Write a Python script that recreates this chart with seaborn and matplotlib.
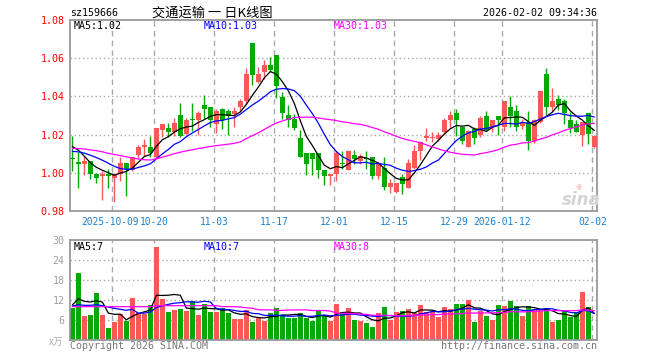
import numpy as np
import pandas as pd
import matplotlib
matplotlib.use("Agg")
import matplotlib.pyplot as plt
import matplotlib.transforms as mtrans
import seaborn as sns

# 日K数据 (2025-09-22 .. 2026-02-02)
opens = [1.0080, 1.0052, 1.0046, 1.0060, 0.9993, 0.9982, 0.9993, 0.9972, 0.9993, 1.0049,
         1.0016, 1.0095, 1.0137, 1.0133, 1.0081, 1.0225, 1.0233, 1.0215, 1.0304, 1.0204,
         1.0279, 1.0277, 1.0353, 1.0344, 1.0256, 1.0332, 1.0323, 1.0309, 1.0344, 1.0374,
         1.0681, 1.0475, 1.0528, 1.0567, 1.0616, 1.0396, 1.0300, 1.0282, 1.0181, 1.0102,
         1.0102, 1.0102, 1.0014, 0.9984, 0.9993, 1.0048, 1.0014, 1.0093, 1.0060, 1.0075,
         1.0081, 0.9981, 1.0025, 0.9928, 0.9902, 0.9979, 0.9923, 1.0025, 1.0116, 1.0182,
         1.0181, 1.0177, 1.0212, 1.0277, 1.0312, 1.0242, 1.0133, 1.0230, 1.0200, 1.0296,
         1.0242, 1.0295, 1.0242, 1.0344, 1.0323, 1.0247, 1.0265, 1.0165, 1.0265, 1.0519,
         1.0344, 1.0388, 1.0375, 1.0277, 1.0253, 1.0200, 1.0312, 1.0133]
highs = [1.0193, 1.0107, 1.0089, 1.0060, 1.0000, 1.0010, 1.0019, 1.0000, 1.0081, 1.0049,
         1.0081, 1.0147, 1.0177, 1.0193, 1.0233, 1.0253, 1.0260, 1.0285, 1.0365, 1.0286,
         1.0365, 1.0323, 1.0405, 1.0344, 1.0335, 1.0340, 1.0335, 1.0344, 1.0388, 1.0549,
         1.0681, 1.0554, 1.0589, 1.0607, 1.0616, 1.0423, 1.0353, 1.0309, 1.0225, 1.0102,
         1.0102, 1.0102, 1.0014, 0.9993, 1.0116, 1.0112, 1.0119, 1.0121, 1.0098, 1.0112,
         1.0081, 1.0046, 1.0081, 0.9967, 0.9949, 0.9993, 1.0072, 1.0147, 1.0168, 1.0233,
         1.0212, 1.0212, 1.0288, 1.0323, 1.0335, 1.0242, 1.0225, 1.0239, 1.0300, 1.0323,
         1.0274, 1.0295, 1.0375, 1.0400, 1.0353, 1.0282, 1.0323, 1.0282, 1.0428, 1.0551,
         1.0446, 1.0405, 1.0388, 1.0318, 1.0277, 1.0265, 1.0312, 1.0200]
lows = [1.0008, 0.9919, 0.9989, 0.9967, 0.9946, 0.9856, 0.9919, 0.9846, 0.9958, 0.9877,
        1.0010, 1.0077, 1.0089, 1.0081, 1.0077, 1.0186, 1.0190, 1.0195, 1.0190, 1.0200,
        1.0218, 1.0200, 1.0282, 1.0239, 1.0207, 1.0230, 1.0198, 1.0239, 1.0323, 1.0361,
        1.0461, 1.0470, 1.0493, 1.0528, 1.0391, 1.0282, 1.0239, 1.0225, 1.0084, 0.9989,
        0.9989, 0.9975, 0.9935, 0.9937, 0.9958, 1.0019, 1.0014, 1.0046, 1.0046, 1.0019,
        0.9967, 0.9967, 0.9909, 0.9896, 0.9896, 0.9888, 0.9920, 1.0019, 1.0067, 1.0168,
        1.0160, 1.0168, 1.0204, 1.0242, 1.0195, 1.0151, 1.0133, 1.0151, 1.0189, 1.0221,
        1.0212, 1.0200, 1.0218, 1.0242, 1.0221, 1.0230, 1.0119, 1.0154, 1.0260, 1.0305,
        1.0323, 1.0330, 1.0253, 1.0207, 1.0212, 1.0142, 1.0151, 1.0130]
closes = [1.0070, 1.0048, 1.0060, 0.9993, 0.9972, 0.9993, 0.9984, 0.9993, 1.0049, 1.0019,
          1.0081, 1.0133, 1.0144, 1.0102, 1.0233, 1.0253, 1.0214, 1.0263, 1.0191, 1.0277,
          1.0276, 1.0312, 1.0335, 1.0277, 1.0323, 1.0274, 1.0300, 1.0323, 1.0374, 1.0519,
          1.0511, 1.0516, 1.0567, 1.0537, 1.0453, 1.0312, 1.0277, 1.0235, 1.0084, 1.0046,
          1.0072, 1.0014, 0.9982, 0.9993, 1.0102, 1.0044, 1.0112, 1.0072, 1.0089, 1.0070,
          0.9981, 1.0046, 0.9928, 0.9949, 0.9949, 0.9940, 1.0049, 1.0112, 1.0160, 1.0193,
          1.0184, 1.0200, 1.0277, 1.0300, 1.0277, 1.0168, 1.0221, 1.0182, 1.0288, 1.0225,
          1.0274, 1.0277, 1.0375, 1.0295, 1.0242, 1.0265, 1.0165, 1.0274, 1.0428, 1.0344,
          1.0375, 1.0353, 1.0312, 1.0235, 1.0212, 1.0265, 1.0204, 1.0193]
# 成交量 (万)
volumes = [9.5, 20.2, 7.3, 7.6, 14.2, 7.6, 3.6, 5.5, 7.8, 5.8,
           12.7, 8.0, 7.9, 10.5, 28.0, 12.4, 8.4, 9.0, 9.3, 8.7,
           11.7, 7.5, 10.8, 8.4, 8.4, 9.5, 8.1, 6.3, 6.3, 9.0,
           5.4, 6.7, 5.7, 8.1, 9.6, 7.5, 6.6, 6.6, 8.1, 6.6,
           5.7, 9.0, 7.2, 5.8, 10.8, 8.4, 9.6, 6.0, 5.7, 5.1,
           3.9, 8.1, 9.9, 6.0, 8.4, 8.7, 9.3, 8.1, 10.5, 8.4,
           8.4, 6.9, 9.9, 9.3, 10.8, 10.8, 12.0, 5.4, 8.7, 7.2,
           6.0, 10.5, 10.2, 11.7, 10.2, 7.2, 10.2, 9.3, 9.3, 9.6,
           5.4, 6.0, 8.7, 6.9, 8.4, 14.4, 9.9, 0.3]

# 均线开头几天 (窗口内缺少更早的数据, 直接从图上读)
ma5_head = [1.0137, 1.0119, 1.0087, 1.0053]
ma10_head = [1.0112, 1.0110, 1.0103, 1.0092, 1.0080, 1.0066, 1.0050, 1.0034, 1.0022]
ma30_head = [1.0128, 1.0127, 1.0125, 1.0120, 1.0116, 1.0110, 1.0102, 1.0096, 1.0090, 1.0084,
             1.0078, 1.0072, 1.0068, 1.0067, 1.0072, 1.0082, 1.0090, 1.0100, 1.0108, 1.0115,
             1.0120, 1.0127, 1.0132, 1.0138, 1.0142, 1.0146, 1.0150, 1.0154, 1.0162]
vma5_head = [10.5, 12.4, 11.6, 11.4]
vma10_head = [10.2, 10.6, 10.4, 10.4, 10.6, 10.3, 9.9, 9.5, 9.2]
vma30_head = [10.0, 10.0, 10.0, 10.0, 10.0, 10.0, 10.0, 10.0, 10.0, 10.0,
              10.0, 10.0, 10.0, 10.0, 10.3, 10.3, 10.3, 10.3, 10.3, 10.3,
              10.3, 10.3, 10.3, 10.3, 10.3, 10.0, 10.0, 10.0, 9.9]

tick_idx = [7, 14, 24, 34, 44, 54, 64, 72, 87]
tick_labels = ["2025-10-09", "10-20", "11-03", "11-17", "12-01",
               "12-15", "12-29", "2026-01-12", "02-02"]
price_ticks = [0.98, 1.00, 1.02, 1.04, 1.06, 1.08]
vol_ticks = [6, 12, 18, 24, 30]

RED = "#fa5757"
GREEN = "#08a808"
GRID = "#aaaaaa"
MONO = ["DejaVu Sans Mono"]
CJK = ["Noto Sans CJK SC", "DejaVu Sans"]

sns.set_theme(style="white")
plt.rcParams['font.family'] = MONO

df = pd.DataFrame({"open": opens, "high": highs, "low": lows,
                   "close": closes, "vol": volumes})
df["idx"] = np.arange(len(df))
df["up"] = df["close"] >= df["open"]
colors = np.where(df["up"], RED, GREEN)

heads = {"ma5": ma5_head, "ma10": ma10_head, "ma30": ma30_head,
         "vma5": vma5_head, "vma10": vma10_head, "vma30": vma30_head}
for n in (5, 10, 30):
    for name, src in ((f"ma{n}", "close"), (f"vma{n}", "vol")):
        s = df[src].rolling(n).mean()
        head = heads[name]
        s.iloc[:len(head)] = head
        df[name] = s

W, H = 660, 360
fig = plt.figure(figsize=(W / 100, H / 100), dpi=100)


def px_axes(l, t, r, b):
    return fig.add_axes([l / W, 1 - b / H, (r - l) / W, (b - t) / H])


ax = px_axes(70, 20, 597, 211)
axv = px_axes(70, 240, 597, 340)

xlim = (-0.39, 87.44)
for a in (ax, axv):
    a.set_xlim(*xlim)
    for s in a.spines.values():
        s.set_color("#999999")
        s.set_linewidth(1.3)
    for t in tick_idx:
        a.axvline(t - 0.33, color=GRID, ls=(0, (4, 3)), lw=1, zorder=0)

# K线
ax.vlines(df["idx"], df["low"], df["high"], colors=colors, lw=1, zorder=2)
body_bot = np.minimum(df["open"], df["close"])
body_h = np.maximum((df["close"] - df["open"]).abs(), 0.0006)
ax.bar(df["idx"], body_h, bottom=body_bot, width=0.8, color=colors, lw=0, zorder=3)

for col, c in (("ma5", "black"), ("ma10", "#0000ff"), ("ma30", "#ff00ff")):
    sns.lineplot(data=df, x="idx", y=col, ax=ax, color=c, lw=0.9, zorder=4)

ax.set_ylim(0.98, 1.08)
for y in price_ticks[1:-1]:
    ax.axhline(y, color=GRID, ls=(0, (1, 2)), lw=1, zorder=0)
ax.set_yticks(price_ticks)
ax.set_yticklabels([f"{v:.2f}" for v in price_ticks], color="#ff0000", fontsize=7.2)
ax.set_xticks([t - 0.33 for t in tick_idx])
ax.set_xticklabels(tick_labels, color="#1a82d4", fontsize=6.9)
ax.tick_params(length=0, pad=4)
# 第一个日期稍微左移, 和 10-20 挨着
lab0 = ax.get_xticklabels()[0]
lab0.set_transform(lab0.get_transform() + mtrans.ScaledTranslation(-2 / 100, 0, fig.dpi_scale_trans))
ax.set_xlabel("")
ax.set_ylabel("")

# 成交量
axv.bar(df["idx"], df["vol"], width=0.8, color=colors, lw=0, zorder=2)
for col, c in (("vma5", "black"), ("vma10", "#0000ff"), ("vma30", "#ff00ff")):
    sns.lineplot(data=df, x="idx", y=col, ax=axv, color=c, lw=0.9, zorder=4)
axv.set_ylim(0, 30)
for y in vol_ticks[:-1]:
    axv.axhline(y, color=GRID, ls=(0, (1, 2)), lw=1, zorder=0)
axv.set_yticks(vol_ticks)
axv.set_yticklabels([str(v) for v in vol_ticks], color="#a0a0a0", fontsize=7.2)
axv.set_xticks([])
axv.tick_params(length=0, pad=4)
axv.set_xlabel("")
axv.set_ylabel("")


# 文字
def t(x, y, s, **kw):
    fig.text(x / W, 1 - y / H, s, va="center", **kw)


t(70, 13, "sz159666", fontsize=7.2, color="black")
t(212, 13, "交通运输 一 日K线图", ha="center", fontsize=9.5, family=CJK, color="black")
t(597, 13, "2026-02-02 09:34:36", ha="right", fontsize=7.2, color="black")
t(74, 26, "MA5:1.02", fontsize=7.2, color="black")
t(204, 26, "MA10:1.03", fontsize=7.2, color="#0000ff")
t(334, 26, "MA30:1.03", fontsize=7.2, color="#ff00ff")
t(74, 247, "MA5:7", fontsize=7.2, color="black")
t(204, 247, "MA10:7", fontsize=7.2, color="#0000ff")
t(334, 247, "MA30:8", fontsize=7.2, color="#ff00ff")
t(70, 346, "Copyright 2026 SINA.COM", fontsize=7.2, color="#777777")
t(597, 346, "http://finance.sina.com.cn", ha="right", fontsize=7.2, color="#777777")
t(56, 342, "x万", ha="center", fontsize=7, family=CJK, color="#b0b0b0", style="italic")
# sina 水印
t(581, 200, "sina", ha="center", fontsize=12, family=["DejaVu Sans"], color="#d4d4d4",
  style="italic", weight="bold")
t(579, 186, "◉", ha="center", fontsize=5.5, family=["DejaVu Sans"], color="#f0c8c8")

fig.savefig("out.png", dpi=100)
